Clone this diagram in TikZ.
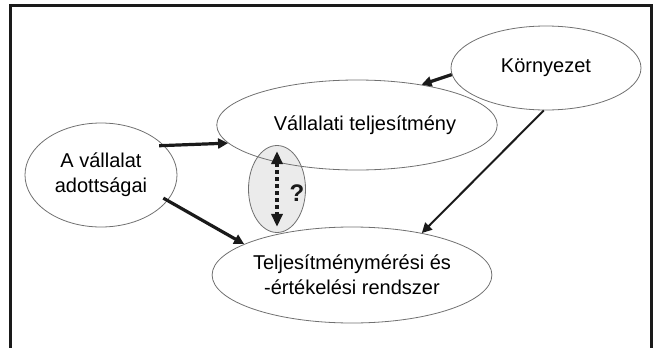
\documentclass[tikz,border=0pt]{standalone}
\usepackage{fontspec}
\setmainfont{Liberation Sans}
\usetikzlibrary{shapes.geometric, arrows.meta}
\definecolor{rimgray}{HTML}{707070}
\definecolor{qfill}{HTML}{EBEBEB}
\definecolor{inkblack}{HTML}{1A1A1A}

\begin{document}
\begin{tikzpicture}[
    x=1pt, y=-1pt,
    oval/.style={ellipse, draw=rimgray, line width=0.8pt, inner sep=0pt,
                 align=center, font=\fontsize{20}{25}\selectfont},
    arrow/.style={-{Triangle[length=10pt, width=10pt]}, line width=3.2pt, inkblack},
    qarrow/.style={{Triangle[length=13pt, width=11pt]}-{Triangle[length=13pt, width=11pt]},
                   line width=4.5pt, dash pattern=on 4pt off 3pt, inkblack,
                   shorten <=6pt, shorten >=6pt}
]
    \useasboundingbox (0,0) rectangle (659,348);

    % Frame
    \draw[line width=3pt, inkblack] (10.5,348) -- (10.5,5.5) -- (651,5.5) -- (651,348);

    % Nodes
    \node[ellipse, draw=rimgray, fill=qfill, line width=0.8pt,
          minimum width=57pt, minimum height=87pt] (q) at (277,189) {};
    \node[oval, minimum width=190pt, minimum height=84pt] (kor) at (546,68) {Környezet};
    \node[oval, minimum width=264pt, minimum height=90pt] (vall) at (357,125) {\hspace*{16pt}Vállalati teljesítmény};
    \node[oval, minimum width=152pt, minimum height=104pt] (adott) at (101,175) {A vállalat\\adottságai};
    \node[oval, minimum width=270pt, minimum height=96pt] (telj) at (352,275) {Teljesítménymérési és\\-értékelési rendszer};
    \node[font=\fontsize{24}{25}\selectfont\bfseries, inkblack] (qm) at (297,193) {?};

    % Arrows
    \draw[arrow] (kor.184) -- (vall.32);
    \draw[arrow, shorten <=-5pt] (adott.25) -- (vall.188);
    \draw[arrow, shorten <=-5pt] (adott.-21) -- (telj.164);
    \draw[arrow, line width=2pt] (kor.267) -- (telj.31);
    \draw[qarrow] (q.north) -- (q.south);
\end{tikzpicture}
\end{document}
